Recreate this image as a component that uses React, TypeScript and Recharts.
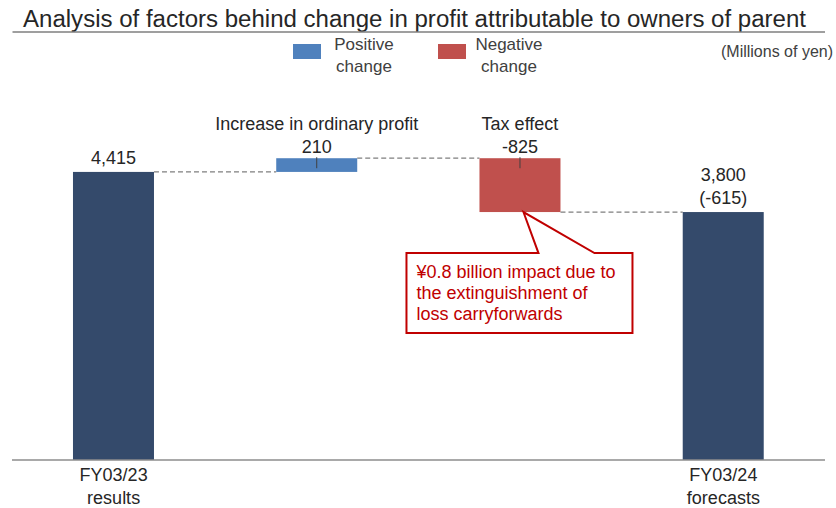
import { Bar, BarChart, XAxis, YAxis } from "recharts"

// chart size and plot margins
const W = 836
const H = 508
const MARGIN = { top: 68.5, right: 11, bottom: 0, left: 12 }
const FONT = "'Liberation Sans', Arial, sans-serif"

const COLORS = {
  total: "#344A6B",
  up: "#4F81BD",
  down: "#C0504D",
  text: "#262626",
  connector: "#7F7F7F",
  callout: "#C00000",
}

// data (millions of yen)
const categories = ["FY03/23 results", "Increase in ordinary profit", "Tax effect", "FY03/24 forecasts"]
const kinds = ["total", "change", "change", "total"]
const values = [4415, 210, -825, 3800]
const axisLabels = [["FY03/23", "results"], [], [], ["FY03/24", "forecasts"]]
const barLabels = [["4,415"], ["Increase in ordinary profit", "210"], ["Tax effect", "-825"], ["3,800", "(-615)"]]
const calloutIndex = 2
const calloutLines = ["¥0.8 billion impact due to", "the extinguishment of", "loss carryforwards"]
const legendLabels = [["Positive", "change"], ["Negative", "change"]]
const title = "Analysis of factors behind change in profit attributable to owners of parent"
const unitLabel = "(Millions of yen)"

// waterfall: invisible base + visible amount
let running = 0
const rows = categories.map((name, i) => {
  const v = values[i]
  let base = 0
  let amount = v
  if (kinds[i] === "total") {
    running = v
  } else {
    base = v >= 0 ? running : running + v
    amount = Math.abs(v)
    running += v
  }
  return { name, base, amount }
})

function WaterfallBar(props: any) {
  const { x, y, width, height, index } = props
  const v = values[index]
  const kind = kinds[index]
  const fill = kind === "total" ? COLORS.total : v >= 0 ? COLORS.up : COLORS.down
  const cx = x + width / 2
  const band = (W - MARGIN.left - MARGIN.right) / categories.length
  const endY = kind === "change" && v < 0 ? y + height : y
  const lines = barLabels[index]
  const lastBase = y - (kind === "change" ? 5 : 8)
  const bottom = y + height

  return (
    <g>
      <rect x={x} y={y} width={width} height={height} fill={fill} />
      {index < categories.length - 1 && (
        <line
          x1={x + width}
          x2={x + band}
          y1={endY}
          y2={endY}
          stroke={COLORS.connector}
          strokeWidth={1.2}
          strokeDasharray="5 3"
        />
      )}
      {kind === "change" && <line x1={cx} x2={cx} y1={y - 1} y2={y + 10} stroke="#404040" strokeWidth={1} />}
      {lines.map((t, k) => (
        <text
          key={k}
          x={cx}
          y={lastBase - (lines.length - 1 - k) * 23}
          textAnchor="middle"
          fontFamily={FONT}
          fontSize={18}
          fill={COLORS.text}
        >
          {t}
        </text>
      ))}
      {index === calloutIndex && (
        <g>
          <path
            d={`M ${cx - 113.5} ${bottom + 41} L ${cx + 18.5} ${bottom + 41} L ${cx + 3.5} ${bottom} L ${cx + 74.5} ${bottom + 41} L ${cx + 112.5} ${bottom + 41} L ${cx + 112.5} ${bottom + 121} L ${cx - 113.5} ${bottom + 121} Z`}
            fill="#fff"
            stroke={COLORS.callout}
            strokeWidth={2}
          />
          {calloutLines.map((t, k) => (
            <text
              key={k}
              x={cx - 103.5}
              y={bottom + 66 + k * 21}
              fontFamily={FONT}
              fontSize={18}
              fill={COLORS.callout}
            >
              {t}
            </text>
          ))}
        </g>
      )}
    </g>
  )
}

function AxisTick({ x, y, payload }: any) {
  const lines = axisLabels[payload.index] || []
  return (
    <g>
      {lines.map((t, k) => (
        <text key={k} x={x} y={y + 20.5 + k * 23} textAnchor="middle" fontFamily={FONT} fontSize={18} fill={COLORS.text}>
          {t}
        </text>
      ))}
    </g>
  )
}

export default function App() {
  const legendColors = [COLORS.up, COLORS.down]
  const legendX = [293, 438]
  return (
    <div style={{ position: "absolute", left: 0, top: 0, width: W, height: H, background: "#fff" }}>
      <BarChart width={W} height={H} data={rows} margin={MARGIN} barCategoryGap="30%">
        <XAxis
          dataKey="name"
          height={48}
          interval={0}
          tickLine={false}
          tickSize={0}
          tickMargin={0}
          axisLine={{ stroke: "#8C8C8C", strokeWidth: 1.5 }}
          tick={<AxisTick />}
        />
        <YAxis hide domain={[0, 6000]} />
        <Bar dataKey="base" stackId="w" fill="transparent" isAnimationActive={false} />
        <Bar dataKey="amount" stackId="w" shape={<WaterfallBar />} isAnimationActive={false} />
      </BarChart>
      <svg width={W} height={H} style={{ position: "absolute", left: 0, top: 0, pointerEvents: "none" }}>
        <text x={23} y={27} fontFamily={FONT} fontSize={23} fill={COLORS.text} textLength={783} lengthAdjust="spacingAndGlyphs">
          {title}
        </text>
        <line x1={12.5} x2={825} y1={32} y2={32} stroke="#7F7F7F" strokeWidth={1.5} />
        {legendLabels.map((lines, i) => (
          <g key={i}>
            <rect x={legendX[i]} y={44} width={28} height={15} fill={legendColors[i]} />
            {lines.map((t, k) => (
              <text
                key={k}
                x={legendX[i] + 71}
                y={49.5 + k * 22.5}
                textAnchor="middle"
                fontFamily={FONT}
                fontSize={17}
                fill="#404040"
              >
                {t}
              </text>
            ))}
          </g>
        ))}
        <text x={833} y={57} textAnchor="end" fontFamily={FONT} fontSize={16} fill="#404040">
          {unitLabel}
        </text>
      </svg>
    </div>
  )
}
